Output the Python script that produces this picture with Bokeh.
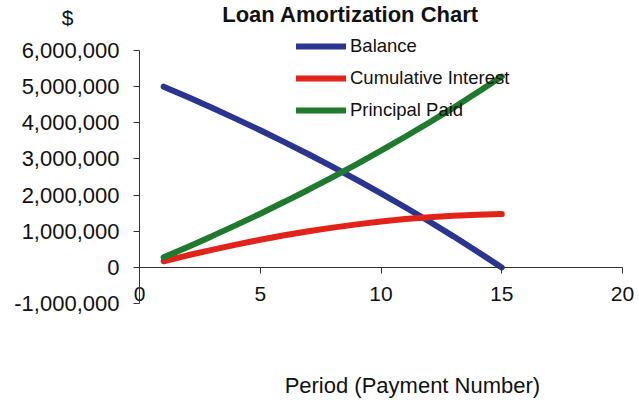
from bokeh.plotting import figure
from bokeh.models import Range1d, FixedTicker, NumeralTickFormatter, Label
from bokeh.embed import file_html
from bokeh.resources import INLINE

# ---- data ----
periods = list(range(1, 16))
balance = [5000000, 4715000, 4415000, 4110000, 3795000, 3465000, 3130000, 2780000,
           2420000, 2050000, 1665000, 1270000, 860000, 435000, 0]
cum_interest = [170000, 335000, 485000, 630000, 765000, 890000, 1000000, 1100000,
                1190000, 1270000, 1340000, 1390000, 1430000, 1460000, 1475000]
principal_paid = [280000, 565000, 865000, 1170000, 1485000, 1815000, 2150000, 2500000,
                  2860000, 3230000, 3615000, 4010000, 4420000, 4845000, 5280000]
x_ticks = [0, 5, 10, 15, 20]
y_ticks = [-1000000, 0, 1000000, 2000000, 3000000, 4000000, 5000000, 6000000]

FONT = "Liberation Sans"

# frame covers the whole canvas; axes are drawn at x=0 / y=0 with bounds
p = figure(width=639, height=402, output_backend="svg", toolbar_location=None,
           x_range=Range1d(-5.756, 20.704), y_range=Range1d(-3738000, 7385000),
           min_border_left=0, min_border_right=0, min_border_top=0,
           min_border_bottom=0)
p.outline_line_color = None
p.xgrid.visible = False
p.ygrid.visible = False
p.background_fill_color = "white"

series = [
    (balance, "#2a3592", "Balance"),
    (cum_interest, "#e2231a", "Cumulative Interest"),
    (principal_paid, "#1f7a2e", "Principal Paid"),
]
for vals, col, name in series:
    p.line(periods, vals, line_color=col, line_width=6, line_cap="round",
           legend_label=name)

# axes
xa = p.xaxis[0]
xa.fixed_location = 0
xa.bounds = (0, 20)
xa.ticker = FixedTicker(ticks=x_ticks)
xa.minor_tick_line_color = None
xa.major_tick_in = 0
xa.major_tick_out = 6
xa.major_label_standoff = 14
xa.major_label_text_font = FONT
xa.major_label_text_font_size = "21px"
xa.major_label_text_color = "#111111"
xa.axis_line_color = "#333333"
xa.major_tick_line_color = "#333333"

ya = p.yaxis[0]
ya.fixed_location = 0
ya.bounds = (-1000000, 6000000)
ya.ticker = FixedTicker(ticks=y_ticks)
ya.formatter = NumeralTickFormatter(format="0,0")
ya.minor_tick_line_color = None
ya.major_tick_in = 0
ya.major_tick_out = 6
ya.major_label_standoff = 14
ya.major_label_text_font = FONT
ya.major_label_text_font_size = "22px"
ya.major_label_text_color = "#111111"
ya.axis_line_color = "#333333"
ya.major_tick_line_color = "#333333"

# texts
p.add_layout(Label(x=8.74, y=7000000, text="Loan Amortization Chart", text_font=FONT,
                   text_font_size="22px", text_font_style="bold", text_align="center",
                   text_baseline="middle", text_color="#111111"))
p.add_layout(Label(x=-2.98, y=6910000, text="$", text_font=FONT,
                   text_font_size="21px", text_align="center",
                   text_baseline="middle", text_color="#111111"))
p.add_layout(Label(x=11.3, y=-3270000, text="Period (Payment Number)", text_font=FONT,
                   text_font_size="22px", text_align="center",
                   text_baseline="middle", text_color="#111111"))

# legend
lg = p.legend[0]
lg.location = (296, 281)
lg.padding = 0
lg.margin = 0
lg.glyph_width = 50
lg.glyph_height = 20
lg.label_height = 20
lg.label_standoff = 4
lg.spacing = 10
lg.label_text_font = FONT
lg.label_text_font_size = "18.5px"
lg.label_text_color = "#111111"
lg.background_fill_alpha = 0
lg.border_line_alpha = 0

open("out.html", "w").write(file_html(p, INLINE))
